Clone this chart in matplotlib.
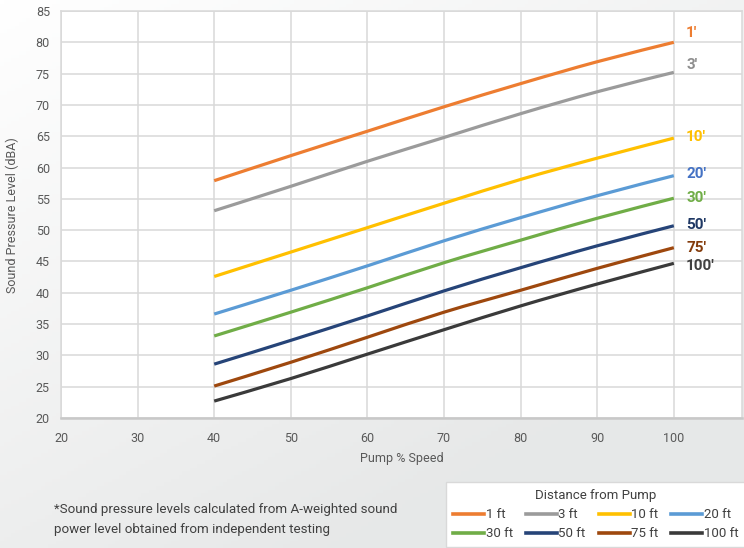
import numpy as np
import matplotlib
matplotlib.use("Agg")
import matplotlib.pyplot as plt
from matplotlib import font_manager
from matplotlib.lines import Line2D
from matplotlib.path import Path
from matplotlib.patches import PathPatch

speed = [40, 50, 60, 70, 80, 90, 100]
spl_1ft = [57.9, 61.9, 65.8, 69.7, 73.4, 76.9, 80.0]
spl_3ft = [53.1, 57.0, 61.0, 64.8, 68.6, 72.1, 75.2]
spl_10ft = [42.6, 46.5, 50.4, 54.3, 58.1, 61.5, 64.7]
spl_20ft = [36.6, 40.4, 44.3, 48.3, 52.0, 55.5, 58.7]
spl_30ft = [33.1, 36.9, 40.8, 44.8, 48.4, 51.9, 55.1]
spl_50ft = [28.6, 32.4, 36.3, 40.3, 44.0, 47.5, 50.7]
spl_75ft = [25.1, 28.9, 32.9, 36.9, 40.4, 43.9, 47.2]
spl_100ft = [22.7, 26.3, 30.2, 34.1, 37.9, 41.4, 44.7]

legend_labels = ["1 ft", "3 ft", "10 ft", "20 ft", "30 ft", "50 ft", "75 ft", "100 ft"]
end_labels = ["1'", "3'", "10'", "20'", "30'", "50'", "75'", "100'"]
end_label_y = [81.5, 76.3, 64.9, 59.0, 55.2, 50.8, 47.2, 44.3]
series = [spl_1ft, spl_3ft, spl_10ft, spl_20ft, spl_30ft, spl_50ft, spl_75ft, spl_100ft]

line_colors = ["#ED7D31", "#9B9B9B", "#FFC000", "#5B9BD5", "#70AD47", "#264478", "#9E480E", "#3A3A3A"]
label_colors = ["#ED7D31", "#8E8E8E", "#FFC000", "#4472C4", "#70AD47", "#1F3864", "#843C0C", "#404040"]

x_ticks = [20, 30, 40, 50, 60, 70, 80, 90, 100]
y_ticks = [20, 25, 30, 35, 40, 45, 50, 55, 60, 65, 70, 75, 80, 85]

avail = {f.name for f in font_manager.fontManager.ttflist}
base_font = "Roboto" if "Roboto" in avail else "DejaVu Sans"
plt.rcParams['font.family'] = [base_font, 'DejaVu Sans']

W, H = 744, 548
fig = plt.figure(figsize=(W / 100, H / 100), dpi=100)

# background gradient
bg = fig.add_axes([0, 0, 1, 1], zorder=-10)
gx, gy = np.meshgrid(np.linspace(0, 1, 200), np.linspace(0, 1, 150))
t = np.clip(0.55 * gx + 0.75 * gy, 0, 1)
c0 = np.array([1.0, 1.0, 1.0])
c1 = np.array([0.905, 0.91, 0.91])
img = c0[None, None, :] * (1 - t[..., None]) + c1[None, None, :] * t[..., None]
bg.imshow(img, aspect='auto', extent=[0, 1, 1, 0])
bg.set_axis_off()

ax = fig.add_axes([61 / W, 1 - 418 / H, (742 - 61) / W, (418 - 11) / H])
ax.set_facecolor("white")


def smooth_path(xs, ys, tension=1 / 6):
    # Catmull-Rom style cubic Bezier through the data points (like Excel smoothed lines)
    xs = np.asarray(xs, float)
    ys = np.asarray(ys, float)
    n = len(xs)
    verts = [(xs[0], ys[0])]
    codes = [Path.MOVETO]
    for i in range(n - 1):
        p0 = np.array([xs[max(i - 1, 0)], ys[max(i - 1, 0)]])
        p1 = np.array([xs[i], ys[i]])
        p2 = np.array([xs[i + 1], ys[i + 1]])
        p3 = np.array([xs[min(i + 2, n - 1)], ys[min(i + 2, n - 1)]])
        c1p = p1 + (p2 - p0) * tension
        c2p = p2 - (p3 - p1) * tension
        verts += [tuple(c1p), tuple(c2p), tuple(p2)]
        codes += [Path.CURVE4] * 3
    return Path(verts, codes)


for vals, col in zip(series, line_colors):
    patch = PathPatch(smooth_path(speed, vals), facecolor='none', edgecolor=col,
                      lw=2.3, capstyle='butt', zorder=3)
    ax.add_patch(patch)

for lab, yv, col in zip(end_labels, end_label_y, label_colors):
    ax.text(101.6, yv, lab, color=col, fontsize=11, fontweight='bold',
            ha='left', va='center', zorder=4)

ax.set_xlim(20, 108.9)
ax.set_ylim(20, 85)
ax.set_xticks(x_ticks)
ax.set_yticks(y_ticks)
ax.grid(True, color="#D9D9D9", lw=1.1, zorder=0)
ax.set_axisbelow(True)
for s in ['top', 'right', 'left']:
    ax.spines[s].set_color("#D9D9D9")
    ax.spines[s].set_linewidth(1.1)
ax.spines['bottom'].set_color("#C8C8C8")
ax.spines['bottom'].set_linewidth(1.8)
ax.tick_params(axis='both', length=0, labelsize=9, labelcolor="#595959")
ax.tick_params(axis='y', pad=8)
ax.tick_params(axis='x', pad=10)

ax.set_xlabel("Pump % Speed", fontsize=9, color="#595959", labelpad=5)
fig.text(12 / W, 1 - 215 / H, "Sound Pressure Level (dBA)", rotation=90,
         fontsize=9, color="#595959", ha='center', va='center')

fig.text(54 / W, 1 - 509 / H, "*Sound pressure levels calculated from A-weighted sound",
         fontsize=9.6, color="#404040", ha='left', va='center')
fig.text(54 / W, 1 - 530 / H, "power level obtained from independent testing",
         fontsize=9.6, color="#404040", ha='left', va='center')

handles = [Line2D([0], [0], color=c, lw=2.6) for c in line_colors]
order = [0, 4, 1, 5, 2, 6, 3, 7]
leg = fig.legend([handles[i] for i in order], [legend_labels[i] for i in order],
                 ncol=4, loc='upper left', bbox_to_anchor=(446 / W, 1 - 482 / H),
                 bbox_transform=fig.transFigure, borderaxespad=0,
                 title="Distance from Pump", fontsize=9.5, title_fontsize=9.5,
                 frameon=True, fancybox=False, edgecolor="#D9D9D9", facecolor="white",
                 framealpha=1, handlelength=2.35, handletextpad=0.1, columnspacing=1.0,
                 labelspacing=0.45, borderpad=0.55, labelcolor="#404040")
leg.get_frame().set_linewidth(1.0)
leg.get_title().set_color("#404040")

fig.savefig("out.png", dpi=100)
